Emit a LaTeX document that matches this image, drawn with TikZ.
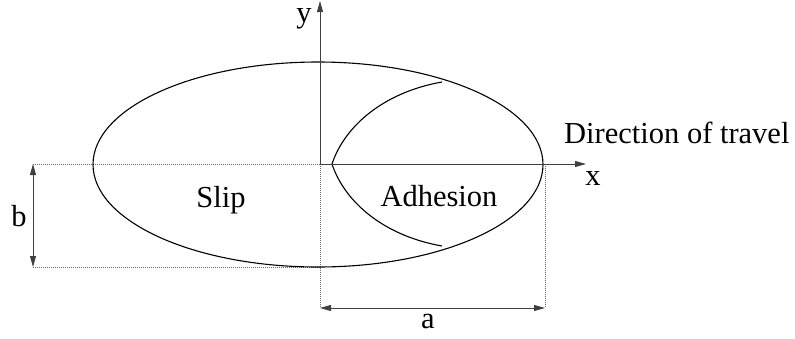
\documentclass[tikz,border=0pt]{standalone}
\usepackage{fontspec}
\setmainfont{Liberation Serif}
\usetikzlibrary{arrows.meta}
\begin{document}
\begin{tikzpicture}[x=1pt,y=-1pt,
  lbl/.style={inner sep=0pt,font=\fontsize{30.5}{36}\selectfont},
  axisline/.style={line width=0.9pt,draw=black!75},
  dimline/.style={line width=0.9pt,draw=black!75,{Triangle[length=11pt,width=6pt]}-{Triangle[length=11pt,width=6pt]}},
  dotline/.style={line width=0.6pt,draw=black!60,dash pattern=on 1pt off 1pt},
  curveline/.style={line width=1.1pt,draw=black}]
\useasboundingbox (0,0) rectangle (795,338);
% coordinates
\coordinate (O) at (320,164);
\coordinate (ytip) at (320,1);
\coordinate (xtip) at (586,164);
\coordinate (L1) at (33,164);
\coordinate (L2) at (33,267);
\coordinate (B2) at (320,267);
\coordinate (A1) at (320,308);
\coordinate (A2) at (545,308);
\coordinate (R1) at (545,164);
\coordinate (P1) at (442,82);
\coordinate (V) at (332,164);
\coordinate (P2) at (442,246);
% dotted guides
\draw[dotline] (L1) -- (O);
\draw[dotline] (L2) -- (B2);
\draw[dotline] (O) -- (A1);
\draw[dotline] (R1) -- (A2);
% ellipse
\draw[curveline] (318,164.5) ellipse [x radius=225, y radius=102.5];
% adhesion boundary
\draw[curveline] (P1) .. controls (385,92) and (345,125) .. (V)
                      .. controls (345,203) and (385,236) .. (P2);
% axes
\draw[axisline,-{Triangle[length=11pt,width=6pt]}] (O) -- (ytip);
\draw[axisline,-{Triangle[length=11pt,width=6pt]}] (O) -- (xtip);
% dimensions
\draw[dimline] (L1) -- (L2);
\draw[dimline] (A1) -- (A2);
% labels
\node[lbl,anchor=base] (ylab) at (304,22) {y};
\node[lbl,anchor=base] (xlab) at (593,185) {x};
\node[lbl,anchor=base west] (dir) at (564,143) {Direction of travel};
\node[lbl,anchor=base] (slip) at (221,207) {Slip};
\node[lbl,anchor=base] (adh) at (439,206) {Adhesion};
\node[lbl,anchor=base] (blab) at (19,226) {b};
\node[lbl,anchor=base] (alab) at (428,328) {a};
\end{tikzpicture}
\end{document}
